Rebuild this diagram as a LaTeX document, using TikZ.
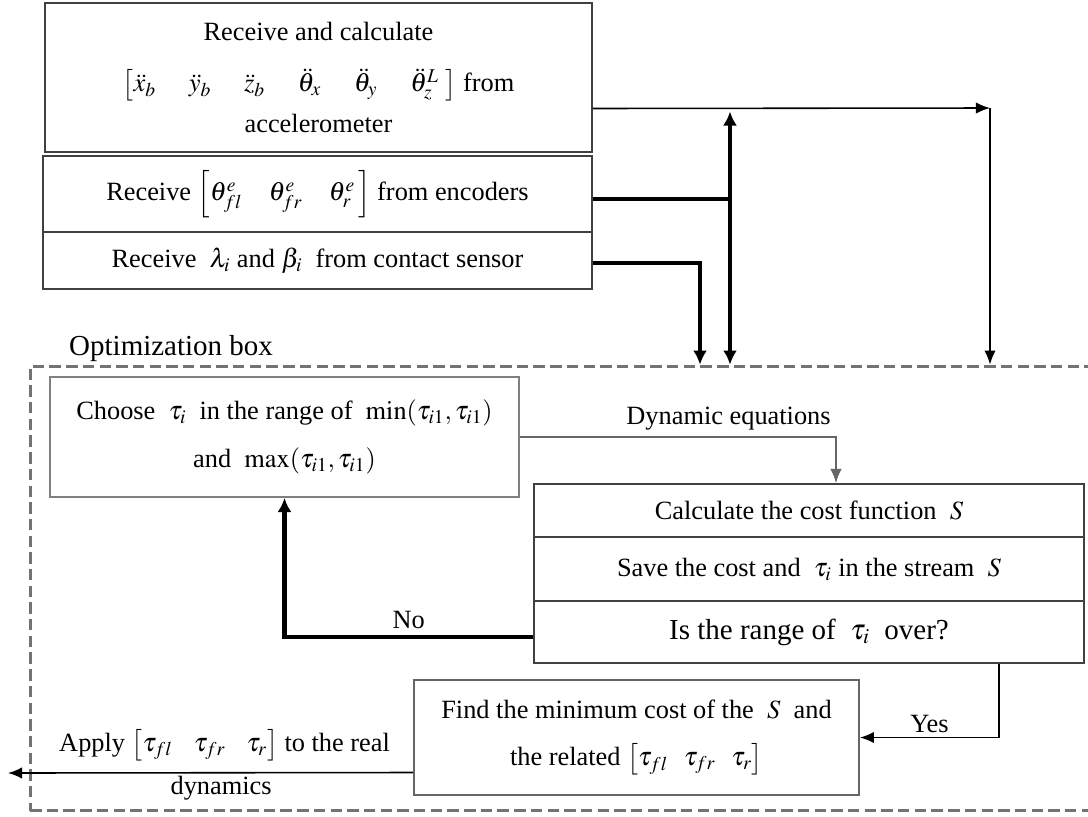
\documentclass[tikz,border=0pt]{standalone}
\usepackage{amsmath}
\usepackage{mathptmx}
\usepackage{fontspec}
\setmainfont{Liberation Serif}
\usetikzlibrary{arrows.meta}

\begin{document}
\begin{tikzpicture}[x=0.02cm,y=-0.02cm,font=\fontsize{15}{27}\selectfont,
	box/.style={draw=black!75,line width=1.1pt,align=center,inner sep=0pt},
	line/.style={line width=0.9pt},
	heavy/.style={line width=2.6pt},
	>={Latex[length=8pt,width=6.5pt]}]
		\useasboundingbox (0,0) rectangle (1088,816);
		\node[box,minimum width=10.94cm,minimum height=2.98cm] (acc) at (318.5,77.5) {Receive and calculate\\[2pt] $\left[\ddot{x}_b\quad\ \ddot{y}_b\quad\ \ddot{z}_b\quad\ \ddot{\theta}_x\quad\ \ddot{\theta}_y\quad\ \ddot{\theta}^L_z\ \right]$\ from\\[-4pt] accelerometer};
		\node[box,minimum width=10.98cm,minimum height=1.52cm] (enc) at (317.5,194) {Receive $\left[\theta^e_{fl}\quad\theta^e_{fr}\quad\theta^e_r\,\right]$\ from encoders};
		\node[box,minimum width=10.98cm,minimum height=1.14cm] (cont) at (317.5,260.5) {Receive\ \ $\lambda_i$\ and $\beta_i$\ \ from contact sensor};
		\node[draw=black!55,dashed,dash pattern=on 6.5pt off 3pt,line width=1.7pt,minimum width=21.4cm,minimum height=8.9cm] (opt) at (565,588.5) {};
		\node[anchor=base west,font=\fontsize{16.5}{18}\selectfont] (optlabel) at (63,355) {Optimization box};
		\node[box,draw=black!50,minimum width=9.38cm,minimum height=2.4cm] (choose) at (284.5,437) {Choose\ \ $\tau_i$\ \ in the range of\ \ $\min(\tau_{i1},\tau_{i1})$\\ and\ \ $\max(\tau_{i1},\tau_{i1})$};
		\node[box,minimum width=11cm,minimum height=1.06cm] (calc) at (809,510.5) {Calculate the cost function\ \ $S$};
		\node[box,minimum width=11cm,minimum height=1.28cm] (save) at (809,569) {Save the cost and\ \ $\tau_i$\ in the stream\ \ $S$};
		\node[box,minimum width=11cm,minimum height=1.24cm,font=\fontsize{16.5}{20}\selectfont] (isover) at (809,632) {Is the range of\ \ $\tau_i$\ \ over?};
		\node[box,draw=black!60,minimum width=8.9cm,minimum height=2.3cm] (find) at (636.5,737.5) {Find the minimum cost of the\ \ $S$\ \ and\\ the related $\left[\tau_{fl}\hspace{0.6em}\tau_{fr}\hspace{0.6em}\tau_r\right]$};
		\coordinate (split) at (990,108);
		\coordinate (encx) at (730,108);
		\coordinate (contx) at (700,300);
		\coordinate (yesx) at (999,741);
		\coordinate (applyend) at (8,773);
		\draw[line,->] ([yshift=-0.62cm]acc.east) -- (split);
		\draw[line,->] (split) -- (split |- opt.north);
		\draw[heavy] ([yshift=-0.1cm]enc.east) -- ([yshift=-0.1cm]enc.east -| encx);
		\draw[heavy,<->,>={Latex[length=8pt,width=8pt]}] ([yshift=-2pt]encx) -- (encx |- opt.north);
		\draw[heavy,->,>={Latex[length=8pt,width=8pt]}] ([yshift=-0.05cm]cont.east) -| (contx |- opt.north);
		\draw[line,draw=black!60,->] (choose.east) -| ([xshift=0.54cm]calc.north) node[pos=0.33,above]{Dynamic equations};
		\draw[heavy,->,>={Latex[length=8pt,width=8pt]}] ([yshift=-0.1cm]isover.west) -| (choose.south) node[pos=0.25,above]{No};
		\draw[line,->] (isover.south -| yesx) |- (find.east) node[pos=0.75,above=-1pt]{Yes};
		\draw[line,->] ([yshift=-0.7cm]find.west) -- (applyend) node[midway,above=3pt,xshift=8pt]{Apply $\left[\tau_{fl}\hspace{0.8em}\tau_{fr}\hspace{0.8em}\tau_r\right]$ to the real} node[midway,below=-2pt,xshift=6pt]{dynamics};
\end{tikzpicture}
\end{document}
